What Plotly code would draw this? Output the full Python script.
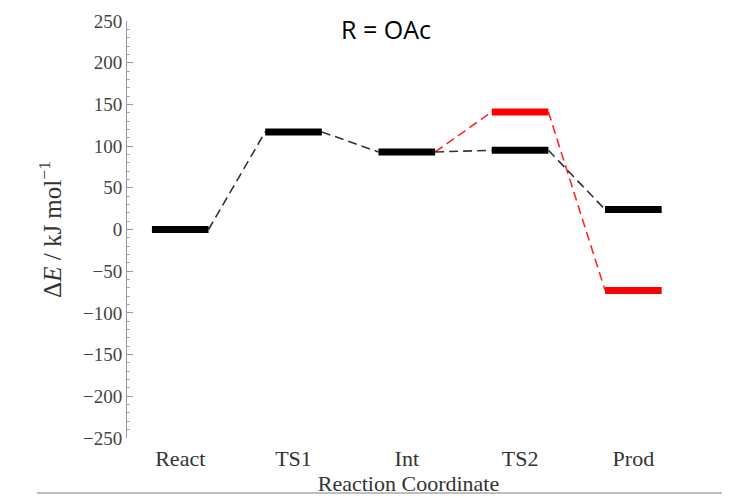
import plotly.graph_objects as go

categories = ["React", "TS1", "Int", "TS2", "Prod"]
black_values = [0, 117, 93, 95, 24]
red_values = [None, None, 93, 141, -73]   # red branch starts from Int
title_text = "R = OAc"

half = 0.25
fig = go.Figure()

def add_path(values, color, dash_color):
    idx = [i for i, v in enumerate(values) if v is not None]
    for a, b in zip(idx[:-1], idx[1:]):
        fig.add_trace(go.Scatter(
            x=[a + 1 + half, b + 1 - half], y=[values[a], values[b]],
            mode="lines", line=dict(color=dash_color, width=1.6, dash="9px,5px"),
            hoverinfo="skip", showlegend=False))
    for i in idx:
        if color == "red" and i == 2:
            continue
        fig.add_trace(go.Scatter(
            x=[i + 1 - half, i + 1 + half], y=[values[i], values[i]],
            mode="lines", line=dict(color=color, width=7),
            hoverinfo="skip", showlegend=False))

add_path(red_values, "red", "rgba(255,0,0,0.85)")
add_path(black_values, "black", "rgba(0,0,0,0.8)")

serif = "Liberation Serif"
fig.update_layout(
    width=722, height=490,
    margin=dict(l=119, r=40, t=13, b=60),
    plot_bgcolor="white", paper_bgcolor="white",
    title=dict(text=title_text, x=0.46, xanchor="center", xref="paper",
               y=0.955, yanchor="middle", yref="container",
               font=dict(family="Open Sans", size=25, color="black")),
    xaxis=dict(range=[0.53, 5.5], tickmode="array", tickvals=[1, 2, 3, 4, 5],
               ticktext=categories, showgrid=False, zeroline=False, showline=False,
               ticks="", automargin=False, ticklabelstandoff=5,
               tickfont=dict(family=serif, size=22, color="#333"),
               title=dict(text="Reaction Coordinate", standoff=0,
                          font=dict(family=serif, size=22, color="#333"))),
    yaxis=dict(range=[-250, 250], tickmode="linear", tick0=-250, dtick=50,
               showgrid=False, zeroline=False, showline=True, linecolor="#999",
               linewidth=1, ticks="inside", ticklen=6, tickcolor="#999",
               automargin=False,
               minor=dict(dtick=10, ticks="inside", ticklen=3, tickcolor="#aaa"),
               tickfont=dict(family=serif, size=19, color="#444"),
               title=dict(text="Δ<i>E</i> / kJ mol<sup>−1</sup>", standoff=14,
                          font=dict(family=serif, size=25, color="#333"))),
)

fig.add_shape(type="line", xref="paper", yref="paper",
              x0=-0.16, x1=1.1, y0=-0.1320, y1=-0.1320,
              line=dict(color="#aaa", width=1.5))

fig.write_html("out.html")
